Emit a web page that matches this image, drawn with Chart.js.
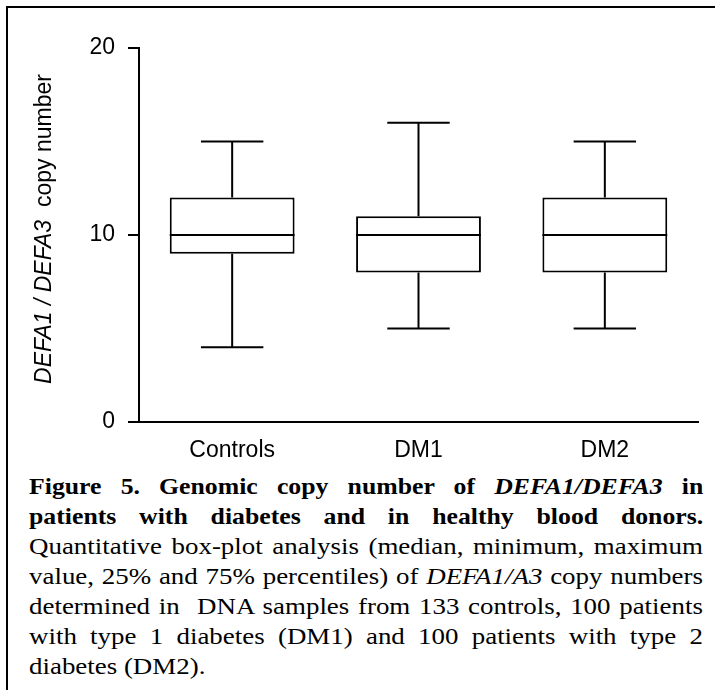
<!DOCTYPE html>
<html>
<head>
    <title>DEFA1/DEFA3 copy number</title>
    <script src="https://cdn.jsdelivr.net/npm/chart.js"></script>
    <style>
        body {
            margin: 0;
            padding: 0;
            background-color: #fff;
            overflow: hidden;
            width: 715px;
            height: 690px;
            position: relative;
        }

        .frame {
            position: absolute;
            left: 6px;
            top: 6px;
            width: 800px;
            height: 800px;
            border-top: 2px solid #000;
            border-left: 2px solid #000;
        }

        .chart-box {
            position: absolute;
            left: 0;
            top: 0;
            width: 715px;
            height: 470px;
        }

        .caption {
            position: absolute;
            left: 29px;
            top: 472px;
            width: 674px;
            font-family: "Liberation Serif", "Times New Roman", serif;
            font-size: 23px;
            line-height: 30px;
            color: #000;
        }

        .caption div {
            text-align: justify;
            text-align-last: justify;
            white-space: nowrap;
            transform-origin: 0 0;
        }

        /* the printed caption is a bit wider than Times, so stretch it */
        .caption div.head {
            width: 602px;
            transform: scaleX(1.12);
        }

        .caption div.wide {
            width: 576px;
            transform: scaleX(1.17);
        }

        .caption div.last {
            text-align-last: left;
        }
    </style>
</head>
<body>
    <div class="frame"></div>
    <div class="chart-box">
        <canvas id="boxChart" width="715" height="470"></canvas>
    </div>
    <div class="caption">
        <div class="head"><b>Figure 5. Genomic copy number of <i>DEFA1/DEFA3</i> in</b></div>
        <div class="head"><b>patients with diabetes and in healthy blood donors.</b></div>
        <div class="wide">Quantitative box-plot analysis (median, minimum, maximum</div>
        <div class="wide">value, 25% and 75% percentiles) of <i>DEFA1/A3</i> copy numbers</div>
        <div class="wide">determined in&nbsp; DNA samples from 133 controls, 100 patients</div>
        <div class="wide">with type 1 diabetes (DM1) and 100 patients with type 2</div>
        <div class="wide last">diabetes (DM2).</div>
    </div>

    <script>
        // values
        const categories = ['Controls', 'DM1', 'DM2'];
        const minValues = [4, 5, 5];
        const q1Values = [9, 8, 8];
        const medianValues = [10, 10, 10];
        const q3Values = [12, 11, 12];
        const maxValues = [15, 16, 15];
        const yTickValues = [0, 10, 20];

        const axisFont = { family: "'Liberation Sans', Arial, sans-serif", size: 23 };

        // whiskers + median line on top of the floating bars
        const whiskerPlugin = {
            id: 'whiskers',
            afterDatasetsDraw(chart) {
                const ctx = chart.ctx;
                const y = chart.scales.y;
                const meta = chart.getDatasetMeta(0);
                ctx.save();
                ctx.strokeStyle = '#000';
                ctx.lineWidth = 2;
                meta.data.forEach((bar, i) => {
                    const half = bar.width / 2;
                    const cap = bar.width / 4;
                    const yMin = y.getPixelForValue(minValues[i]);
                    const yQ1 = y.getPixelForValue(q1Values[i]);
                    const yMed = y.getPixelForValue(medianValues[i]);
                    const yQ3 = y.getPixelForValue(q3Values[i]);
                    const yMax = y.getPixelForValue(maxValues[i]);
                    ctx.beginPath();
                    ctx.moveTo(bar.x - half, yMed);
                    ctx.lineTo(bar.x + half, yMed);
                    ctx.moveTo(bar.x, yQ3);
                    ctx.lineTo(bar.x, yMax);
                    ctx.moveTo(bar.x - cap, yMax);
                    ctx.lineTo(bar.x + cap, yMax);
                    ctx.moveTo(bar.x, yQ1);
                    ctx.lineTo(bar.x, yMin);
                    ctx.moveTo(bar.x - cap, yMin);
                    ctx.lineTo(bar.x + cap, yMin);
                    ctx.stroke();
                });
                ctx.restore();
            }
        };

        // y title with italic gene names and upright "copy number"
        const yTitlePlugin = {
            id: 'yTitle',
            afterDraw(chart) {
                const ctx = chart.ctx;
                const area = chart.chartArea;
                const parts = [
                    { text: 'DEFA1 / DEFA3', style: 'italic' },
                    { text: '  copy number', style: 'normal' }
                ];
                ctx.save();
                ctx.fillStyle = '#000';
                ctx.textBaseline = 'middle';
                ctx.textAlign = 'left';
                let total = 0;
                parts.forEach(p => {
                    ctx.font = p.style + ' ' + axisFont.size + 'px ' + axisFont.family;
                    p.w = ctx.measureText(p.text).width;
                    total += p.w;
                });
                ctx.translate(45, (area.top + area.bottom) / 2 - 6);
                ctx.rotate(-Math.PI / 2);
                let x = -total / 2;
                parts.forEach(p => {
                    ctx.font = p.style + ' ' + axisFont.size + 'px ' + axisFont.family;
                    ctx.fillText(p.text, x, 0);
                    x += p.w;
                });
                ctx.restore();
            }
        };

        new Chart(document.getElementById('boxChart'), {
            type: 'bar',
            data: {
                labels: categories,
                datasets: [{
                    label: 'IQR',
                    data: categories.map((c, i) => [q1Values[i], q3Values[i]]),
                    backgroundColor: '#fff',
                    borderColor: '#000',
                    borderWidth: 2,
                    borderSkipped: false,
                    barPercentage: 0.67,
                    categoryPercentage: 1
                }]
            },
            options: {
                responsive: false,
                animation: false,
                devicePixelRatio: 1,
                layout: { padding: { top: 48, right: 17, left: 0, bottom: 0 } },
                plugins: {
                    legend: { display: false },
                    tooltip: { enabled: false }
                },
                scales: {
                    x: {
                        grid: { display: false },
                        border: { display: true, color: '#000', width: 2 },
                        ticks: { color: '#000', font: axisFont, padding: 7, maxRotation: 0 },
                        afterFit(scale) { scale.height = 48; }
                    },
                    y: {
                        min: 0,
                        max: 20,
                        afterBuildTicks(scale) {
                            scale.ticks = yTickValues.map(v => ({ value: v }));
                        },
                        grid: {
                            drawOnChartArea: false,
                            drawTicks: true,
                            tickLength: 11,
                            color: '#000',
                            lineWidth: 2
                        },
                        border: { display: true, color: '#000', width: 2 },
                        ticks: { color: '#000', font: axisFont, padding: 13 },
                        afterFit(scale) { scale.width = 139; }
                    }
                }
            },
            plugins: [whiskerPlugin, yTitlePlugin]
        });
    </script>
</body>
</html>
